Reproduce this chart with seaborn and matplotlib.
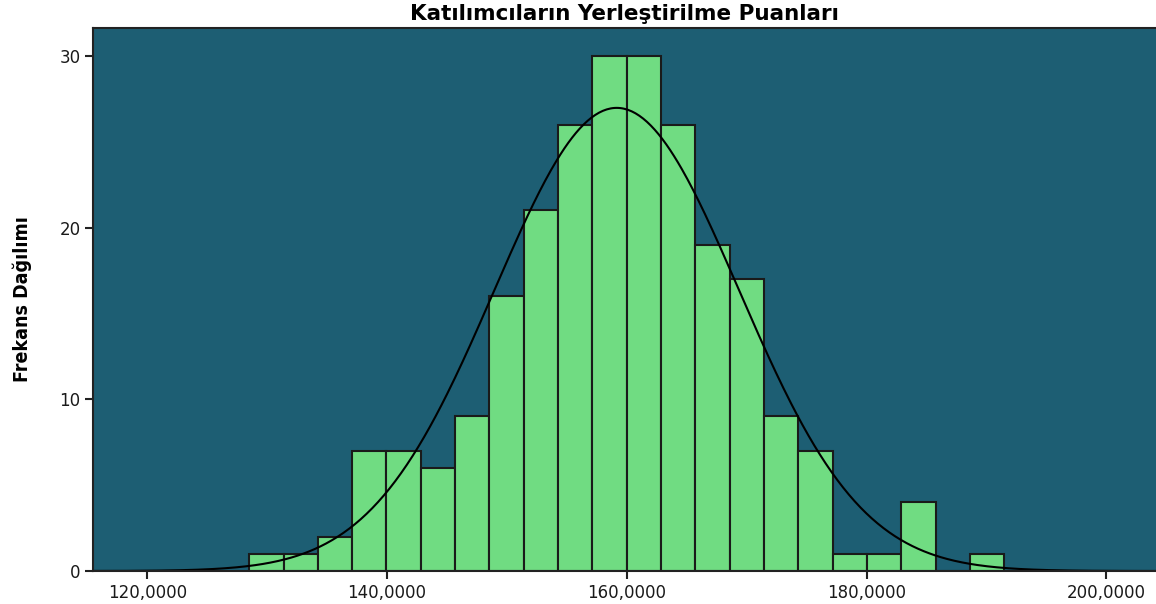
import numpy as np
import pandas as pd
import seaborn as sns
import matplotlib.pyplot as plt
from matplotlib.ticker import FuncFormatter

# Histogram counts (22 equal-width bins)
bin_start = 128.50
bin_width = 2.862
counts = [1, 1, 2, 7, 7, 6, 9, 16, 21, 26, 30, 30, 26, 19, 17, 9, 7, 1, 1, 4, 0, 1]

# Fitted normal curve
curve_mean = 159.15
curve_sd = 10.2

x_ticks = [120, 140, 160, 180, 200]
y_ticks = [0, 10, 20, 30]

title = "Katılımcıların Yerleştirilme Puanları"
y_label = "Frekans Dağılımı"

edges = bin_start + bin_width * np.arange(len(counts) + 1)
centers = (edges[:-1] + edges[1:]) / 2
df = pd.DataFrame({"puan": centers, "n": counts})

n_total = sum(counts)
xs = np.linspace(112, 208, 600)
ys = n_total * bin_width * np.exp(-0.5 * ((xs - curve_mean) / curve_sd) ** 2) / (curve_sd * np.sqrt(2 * np.pi))
curve = pd.DataFrame({"x": xs, "y": ys})

sns.set_style("ticks")
plt.rcParams["font.family"] = ["DejaVu Sans"]

fig = plt.figure(figsize=(11.56, 6.04), dpi=100)
ax = fig.add_axes([93 / 1156, 33 / 604, 1 - 93 / 1156, 543 / 604])
ax.set_facecolor("#1d5e73")

sns.histplot(data=df, x="puan", weights="n", bins=edges.tolist(), ax=ax,
             color="#70dc82", alpha=1, edgecolor="#1a1a1a", linewidth=1.5)
sns.lineplot(data=curve, x="x", y="y", ax=ax, color="black", linewidth=1.5)

ax.set_xlim(115.47, 204.13)
ax.set_ylim(0, 31.63)
ax.set_xticks(x_ticks)
ax.set_yticks(y_ticks)
ax.xaxis.set_major_formatter(FuncFormatter(lambda v, p: f"{v:.4f}".replace(".", ",")))
ax.tick_params(axis="both", direction="out", length=6, width=1.5, color="#222222",
               labelsize=12, labelcolor="#1a1a1a", pad=3)

for side in ["left", "bottom", "top"]:
    ax.spines[side].set_color("#222222")
    ax.spines[side].set_linewidth(1.5)
ax.spines["right"].set_visible(False)

ax.set_xlabel("")
ax.set_ylabel(y_label, family=["DejaVu Sans"], fontstretch="condensed",
              fontweight="bold", fontsize=14, labelpad=20, color="black")
ax.set_title(title, fontsize=15.5, fontweight="bold", pad=6, color="black")

fig.savefig("out.png", dpi=100)
